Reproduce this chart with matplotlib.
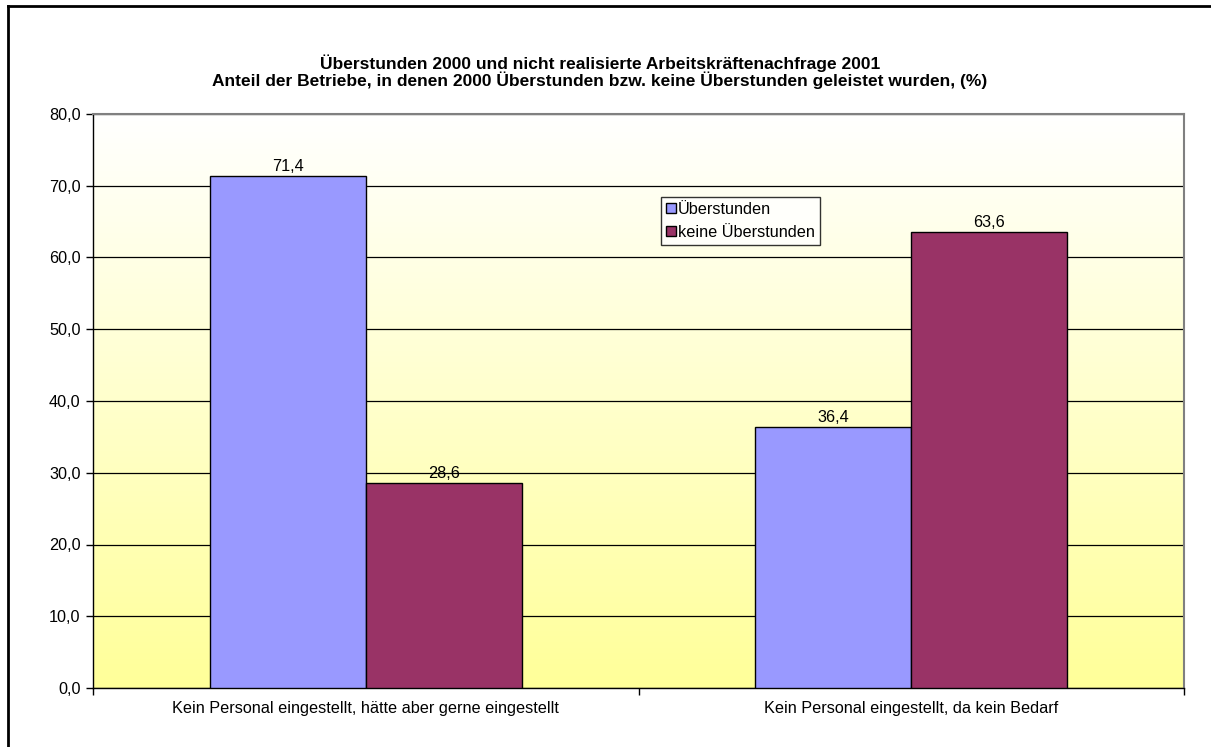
import numpy as np
import matplotlib
matplotlib.use("Agg")
import matplotlib.pyplot as plt
from matplotlib.patches import Patch
from matplotlib.lines import Line2D

plt.rcParams['font.family'] = ['Liberation Sans', 'DejaVu Sans']

# Data
categories = ["Kein Personal eingestellt, hätte aber gerne eingestellt",
              "Kein Personal eingestellt, da kein Bedarf"]
series_names = ["Überstunden", "keine Überstunden"]
ueberstunden = [71.4, 36.4]
keine_ueberstunden = [28.6, 63.6]
y_ticks = [0, 10, 20, 30, 40, 50, 60, 70, 80]
title_lines = ["Überstunden 2000 und nicht realisierte Arbeitskräftenachfrage 2001",
               "Anteil der Betriebe, in denen 2000 Überstunden bzw. keine Überstunden geleistet wurden, (%)"]

colors = ["#9999FF", "#993366"]
FS = 11.7

W, H = 1211, 747
fig = plt.figure(figsize=(W / 100, H / 100), dpi=100)
fig.patch.set_facecolor("white")

# Chart frame (top and left edges)
fig.add_artist(Line2D([8 / W, 8 / W], [0, 1 - 6 / H], transform=fig.transFigure,
                      color="black", lw=2))
fig.add_artist(Line2D([8 / W, 1], [1 - 6 / H, 1 - 6 / H], transform=fig.transFigure,
                      color="black", lw=2))

left, right, top, bottom = 93, 1184, 114, 688
ax = fig.add_axes([left / W, 1 - bottom / H, (right - left) / W, (bottom - top) / H])

# Gradient background: white at top fading to pale yellow at bottom
grad = np.linspace(0, 1, 256).reshape(-1, 1)
c_top = np.array([1.0, 1.0, 1.0])
c_bot = np.array([1.0, 1.0, 0.6])
img = c_top[None, None, :] * (1 - grad[:, :, None]) + c_bot[None, None, :] * grad[:, :, None]
ax.imshow(img, extent=[-0.5, 1.5, 0, 80], aspect="auto", origin="upper", zorder=0)

x = np.arange(len(categories))
bw = 1 / 3.5
b1 = ax.bar(x - bw / 2, ueberstunden, width=bw, color=colors[0], edgecolor="black",
            linewidth=1, zorder=3, label=series_names[0])
b2 = ax.bar(x + bw / 2, keine_ueberstunden, width=bw, color=colors[1], edgecolor="black",
            linewidth=1, zorder=3, label=series_names[1])

for bars, vals in ((b1, ueberstunden), (b2, keine_ueberstunden)):
    for rect, v in zip(bars, vals):
        ax.annotate(f"{v:.1f}".replace(".", ","),
                    (rect.get_x() + rect.get_width() / 2, v),
                    xytext=(0, 1.5), textcoords="offset points",
                    ha="center", va="bottom", fontsize=FS)

ax.set_xlim(-0.5, 1.5)
ax.set_ylim(0, 80)
ax.set_yticks(y_ticks)
ax.set_yticklabels([f"{t:.1f}".replace(".", ",") for t in y_ticks], fontsize=FS)
ax.yaxis.grid(True, color="black", linewidth=0.9, zorder=1)
ax.set_axisbelow(True)

ax.set_xticks(x)
ax.set_xticklabels(categories, fontsize=FS)
ax.tick_params(axis="x", which="major", length=0, pad=9)
ax.set_xticks([-0.5, 0.5, 1.5], minor=True)
ax.tick_params(axis="x", which="minor", length=5, width=1, direction="out")
ax.tick_params(axis="y", length=5, width=1, direction="out", pad=4)

for s in ("top", "right"):
    ax.spines[s].set_color("#808080")
    ax.spines[s].set_linewidth(1.5)
for s in ("left", "bottom"):
    ax.spines[s].set_color("black")
    ax.spines[s].set_linewidth(1)

fig.text(600 / W, 1 - 63 / H, title_lines[0], ha="center", va="center",
         fontsize=12.5, fontweight="bold")
fig.text(600 / W, 1 - 80 / H, title_lines[1], ha="center", va="center",
         fontsize=12.5, fontweight="bold")

handles = [Patch(facecolor=colors[0], edgecolor="black"),
           Patch(facecolor=colors[1], edgecolor="black")]
leg = fig.legend(handles, series_names, loc="upper left",
                 bbox_to_anchor=(661 / W, 1 - 197 / H), fontsize=FS,
                 frameon=True, fancybox=False, edgecolor="black",
                 handlelength=0.6, handleheight=0.6, handletextpad=0.15,
                 borderpad=0.3, labelspacing=0.5, borderaxespad=0)
leg.get_frame().set_linewidth(1)
leg.get_frame().set_facecolor("white")

fig.savefig("out.png", dpi=100)
